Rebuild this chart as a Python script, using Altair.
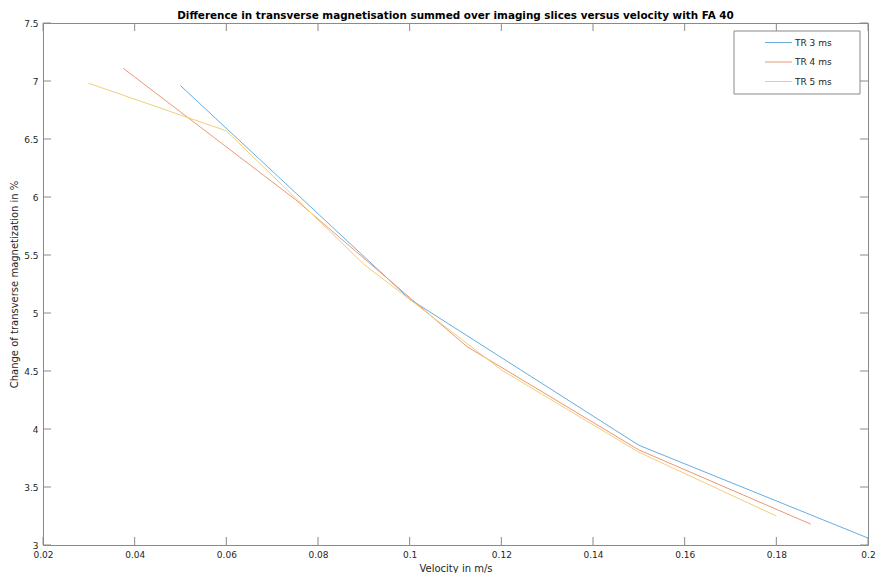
import altair as alt
import pandas as pd

# Velocities (m/s) and change of transverse magnetisation (%) per repetition time
series_names = ["TR 3 ms", "TR 4 ms", "TR 5 ms"]
series_colors = ["#66addf", "#ea9775", "#f3cd78"]

velocity_tr3 = [0.05, 0.1, 0.15, 0.2]
change_tr3 = [6.96, 5.12, 3.86, 3.06]

velocity_tr4 = [0.0375, 0.075, 0.1125, 0.15, 0.1875]
change_tr4 = [7.11, 5.98, 4.71, 3.82, 3.18]

velocity_tr5 = [0.03, 0.06, 0.09, 0.12, 0.15, 0.18]
change_tr5 = [6.98, 6.57, 5.42, 4.51, 3.80, 3.25]

x_ticks = [0.02, 0.04, 0.06, 0.08, 0.1, 0.12, 0.14, 0.16, 0.18, 0.2]
y_ticks = [3, 3.5, 4, 4.5, 5, 5.5, 6, 6.5, 7, 7.5]

rows = []
for name, vs, cs in [
    ("TR 3 ms", velocity_tr3, change_tr3),
    ("TR 4 ms", velocity_tr4, change_tr4),
    ("TR 5 ms", velocity_tr5, change_tr5),
]:
    for i, (v, c) in enumerate(zip(vs, cs)):
        rows.append({"series": name, "velocity": v, "change": c, "order": i})
df = pd.DataFrame(rows)
xt = pd.DataFrame({"v": x_ticks})
yt = pd.DataFrame({"m": y_ticks})

W, H = 825, 522
TICK_LEN = 8
FONT = "DejaVu Sans"
TEXT = "#262626"
FRAME = "#8a8a8a"

xscale = alt.Scale(domain=[0.02, 0.2], nice=False, zero=False)
yscale = alt.Scale(domain=[3, 7.5], nice=False, zero=False)

lines = alt.Chart(df).mark_line(strokeWidth=1).encode(
    x=alt.X(
        "velocity:Q", scale=xscale,
        axis=alt.Axis(values=x_ticks, format="~g", title="Velocity in m/s",
                      titlePadding=4, labelFlush=False),
    ),
    y=alt.Y(
        "change:Q", scale=yscale,
        axis=alt.Axis(values=y_ticks, format="~g",
                      title="Change of transverse magnetization in %",
                      titlePadding=4, labelFlush=False),
    ),
    color=alt.Color(
        "series:N",
        scale=alt.Scale(domain=series_names, range=series_colors),
        legend=alt.Legend(
            orient="none", legendX=726, legendY=10, title=None,
            symbolType="M-1.5,0H1.5", symbolSize=324, symbolStrokeWidth=1,
            symbolFillColor="transparent",
            labelFontSize=9, labelFont=FONT, labelColor=TEXT, labelOffset=7,
            rowPadding=4.5, padding=0,
        ),
    ),
    order="order:Q",
)

# Inward tick marks on all four sides of the box
bottom_ticks = alt.Chart(xt).mark_rule(color=FRAME).encode(
    x=alt.X("v:Q", scale=xscale, axis=None),
    y=alt.value(H), y2=alt.value(H - TICK_LEN),
)
top_ticks = alt.Chart(xt).mark_rule(color=FRAME).encode(
    x=alt.X("v:Q", scale=xscale, axis=None),
    y=alt.value(0), y2=alt.value(TICK_LEN),
)
left_ticks = alt.Chart(yt).mark_rule(color=FRAME).encode(
    y=alt.Y("m:Q", scale=yscale, axis=None),
    x=alt.value(0), x2=alt.value(TICK_LEN),
)
right_ticks = alt.Chart(yt).mark_rule(color=FRAME).encode(
    y=alt.Y("m:Q", scale=yscale, axis=None),
    x=alt.value(W), x2=alt.value(W - TICK_LEN),
)

legend_box = alt.Chart(pd.DataFrame({"k": [0]})).mark_rect(
    fill="white", stroke=FRAME, strokeWidth=1
).encode(
    x=alt.value(691), x2=alt.value(817), y=alt.value(8), y2=alt.value(71)
)

chart = alt.layer(
    lines, bottom_ticks, top_ticks, left_ticks, right_ticks, legend_box
).resolve_axis(
    x="independent", y="independent"
).properties(
    width=W, height=H,
    autosize="none",
    padding={"left": 43, "top": 23, "right": 9, "bottom": 28},
    title=alt.TitleParams(
        "Difference in transverse magnetisation summed over imaging slices versus velocity with FA 40",
        fontSize=10.4, fontWeight="bold", font=FONT, color="black",
        anchor="middle", offset=-2,
    ),
).configure_view(
    stroke=FRAME, strokeWidth=1
).configure_axis(
    grid=False, domain=False, ticks=False,
    labelFont=FONT, labelFontSize=9, labelColor=TEXT, labelPadding=5,
    titleFont=FONT, titleFontSize=10, titleFontWeight="normal", titleColor=TEXT,
)

chart.save("out.html", embed_options={"renderer": "svg", "actions": False})
